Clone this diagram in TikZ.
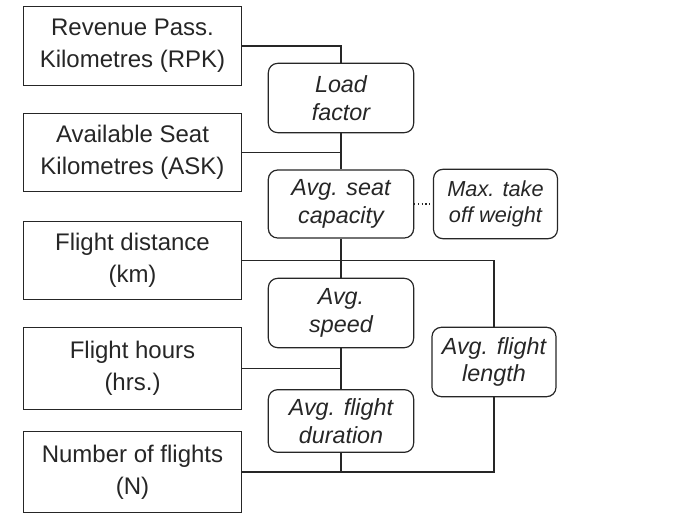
\documentclass[tikz,border=0pt]{standalone}
\usepackage{fontspec}
\setmainfont{Liberation Sans}
\usepackage{xcolor}
\usepackage{tikz}
\definecolor{ink}{HTML}{262626}
\tikzset{
  qty/.style={rectangle,draw=ink,line width=0.9pt,align=center,
    minimum width=163pt,minimum height=59pt,inner sep=2pt,text=ink,
    font=\fontsize{18}{24}\selectfont},
  ratio/.style={rectangle,draw=ink,line width=0.9pt,rounded corners=7pt,
    align=center,minimum width=109pt,minimum height=52pt,inner sep=2pt,
    text=ink,font=\fontsize{17.5}{20.5}\selectfont\itshape},
  ln/.style={draw=ink,line width=0.8pt},
}

\begin{document}
\begin{tikzpicture}[x=0.75pt,y=-0.75pt]
  \useasboundingbox (0,0) rectangle (687,515);
  % measured quantities
  \node[qty] (rpk) at (132.5,46) {Revenue Pass.\\Kilometres (RPK)};
  \node[qty] (ask) at (132.5,152.5) {Available Seat\\Kilometres (ASK)};
  \node[qty] (dist) at (132.5,260.5) {Flight distance\\(km)};
  \node[qty,minimum height=62pt] (hrs) at (132.5,368.5) {Flight hours\\(hrs.)};
  \node[qty,minimum height=61pt] (num) at (132.5,472) {Number of flights\\(N)};
  % derived ratios
  \node[ratio] (lf) at (341,98) {Load\\factor};
  \node[ratio,minimum height=51pt] (cap) at (341,204) {Avg. seat\\capacity};
  \node[ratio] (spd) at (341,313) {Avg.\\speed};
  \node[ratio,minimum height=47pt] (dur) at (341,421) {Avg. flight\\duration};
  \node[ratio,minimum width=93pt,font=\fontsize{16.3}{19.5}\selectfont\itshape]
    (mtow) at (495.5,204) {Max. take\\off weight};
  \node[ratio,minimum width=93pt] (afl) at (494,362) {Avg. flight\\length};
  % links
  \draw[ln] (rpk.east) -| (lf.north);
  \draw[ln] (ask.east) -- (ask.east -| lf.south);
  \draw[ln] (lf.south) -- (cap.north);
  \draw[ln,dotted] (cap.east) -- (mtow.west);
  \draw[ln] (cap.south) -- (spd.north);
  \draw[ln] (dist.east) -| (afl.north);
  \draw[ln] (hrs.east) -- (hrs.east -| spd.south);
  \draw[ln] (spd.south) -- (dur.north);
  \draw[ln] (num.east) -| (afl.south);
  \draw[ln] (dur.south) -- (dur.south |- num.east);
\end{tikzpicture}
\end{document}
